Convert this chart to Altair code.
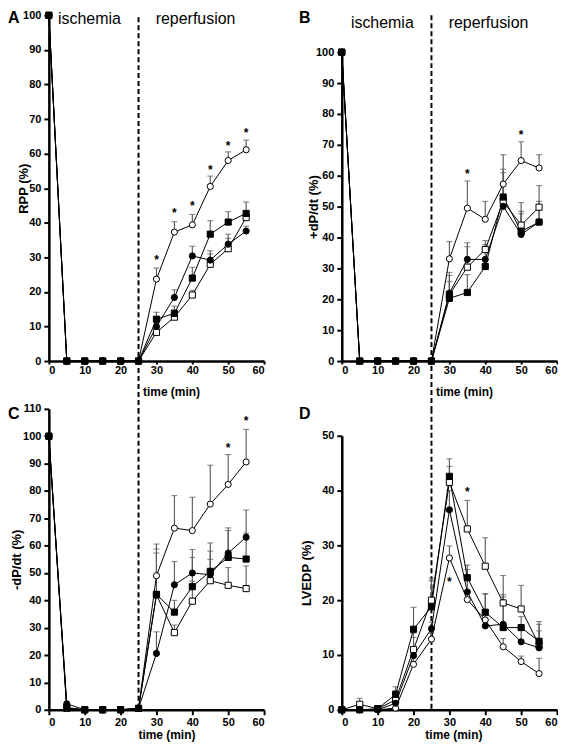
import altair as alt
import pandas as pd

TIMES = [0, 5, 10, 15, 20, 25, 30, 35, 40, 45, 50, 55]
# drawing order: open markers first, filled markers on top
SERIES = ["os", "oc", "fc", "fs"]
SHAPES = ["square", "circle", "circle", "square"]
FILLS = ["white", "white", "black", "black"]
N = None

# Panel A: RPP (%)
A_oc = [100, 0, 0, 0, 0, 0, 23.7, 37.3, 39.4, 50.5, 58.0, 61.1]
A_fc = [100, 0, 0, 0, 0, 0, 10.0, 18.4, 30.4, 29.2, 33.8, 37.6]
A_fs = [100, 0, 0, 0, 0, 0, 12.1, 13.8, 24.0, 36.7, 40.2, 42.7]
A_os = [100, 0, 0, 0, 0, 0, 8.3, 12.7, 19.1, 28.0, 32.5, 41.5]
A_oc_err = [N, N, N, N, N, N, 26.9, 40.3, 42.4, 53.5, 60.5, 63.9]
A_fc_err = [N, N, N, N, N, N, 11.5, 20.6, 33.2, 31.9, 36.7, 39.0]
A_fs_err = [N, N, N, N, N, N, 14.1, 15.9, 27.1, 40.6, 43.2, 46.0]
A_os_err = [N, N, N, N, N, N, 9.5, 14.8, 20.5, 31.0, 35.5, 42.8]
A_star_x = [30, 35, 40, 45, 50, 55]
A_star_y = [30.0, 43.7, 45.6, 56.0, 63.2, 66.9]

# Panel B: +dP/dt (%)
B_oc = [100, 0, 0, 0, 0, 0, 33.1, 49.5, 45.9, 57.3, 64.9, 62.5]
B_fc = [100, 0, 0, 0, 0, 0, 22.0, 32.9, 32.9, 50.1, 41.0, 45.0]
B_fs = [100, 0, 0, 0, 0, 0, 20.3, 22.2, 30.6, 53.1, 42.0, 45.0]
B_os = [100, 0, 0, 0, 0, 0, 21.5, 30.4, 36.1, 51.7, 44.0, 49.8]
B_oc_err = [N, N, N, N, N, N, 38.7, 58.3, 51.7, 66.8, 71.0, 66.8]
B_fc_err = [N, N, N, N, N, N, 28.7, 38.3, 37.7, 57.5, 47.7, 50.5]
B_fs_err = [N, N, N, N, N, N, 25.8, 28.0, 33.0, 62.1, 48.5, 51.7]
B_os_err = [N, N, N, N, N, N, 27.7, 37.0, 39.0, 61.0, 51.3, 56.8]
B_star_x = [35, 50]
B_star_y = [61.6, 74.2]

# Panel C: -dP/dt (%)
C_oc = [100, 0.5, 0, 0, 0, 0.5, 49.0, 66.4, 65.5, 75.2, 82.4, 90.6]
C_fc = [100, 2.2, 0, 0, 0, 0.5, 20.6, 45.7, 50.0, 49.4, 57.3, 63.1]
C_fs = [100, 0.8, 0, 0, 0, 0.5, 42.2, 35.7, 45.0, 50.6, 55.7, 55.1]
C_os = [100, 0.5, 0, 0, 0, 0.5, 42.0, 28.2, 39.7, 47.2, 45.5, 44.3]
C_oc_err = [N, N, N, N, N, N, 60.6, 78.3, 77.7, 89.4, 93.3, 102.5]
C_fc_err = [N, N, N, N, N, N, 28.5, 54.2, 58.6, 58.0, 66.5, 73.0]
C_fs_err = [N, N, N, N, N, N, 57.3, 40.0, 55.7, 61.0, 65.5, 64.6]
C_os_err = [N, N, N, N, N, N, 58.8, 31.0, 47.0, 55.0, 52.0, 52.6]
C_star_x = [50, 55]
C_star_y = [96.9, 106.6]

# Panel D: LVEDP (%)
D_oc = [0, 0, 0, 0.3, 8.3, 12.9, 27.7, 20.1, 16.4, 11.5, 8.8, 6.6]
D_fc = [0, 0, 0, 1.2, 9.9, 14.8, 36.5, 21.5, 15.3, 15.6, 12.4, 11.3]
D_fs = [0, 0, 0.2, 2.8, 14.7, 18.8, 42.6, 24.1, 17.8, 15.0, 15.0, 12.5]
D_os = [0, 1.0, 0.2, 1.8, 11.0, 20.0, 41.5, 33.0, 26.2, 19.5, 18.4, 11.8]
D_oc_err = [N, N, N, N, 9.5, 14.0, 29.9, 21.5, 17.5, 13.0, 9.8, 9.4]
D_fc_err = [N, N, N, 1.8, 13.2, 16.0, 40.0, 25.6, 21.1, 21.0, 14.5, 15.6]
D_fs_err = [N, N, N, 4.2, 18.7, 24.0, 45.8, 26.4, 21.2, 20.6, 17.0, 16.1]
D_os_err = [N, 2.1, N, 3.5, 14.0, 23.5, 44.4, 38.2, 31.4, 24.5, 22.7, 14.4]
D_star_x = [30, 35]
D_star_y = [23.9, 40.2]

W = 216
H = 347
H2 = 302
FONT = "Liberation Sans"


def build(letter, ytitle, ydom, yticks, yrange, height, vals, errs, sx, sy,
          ytitle_x, letter_x, letter_y, top_row, rule_top, rule_bottom,
          label_y=None, xtitle_x=None):
    pts, ers, caps = [], [], []
    for key, v, e in zip(SERIES, vals, errs):
        for t, yv, ev in zip(TIMES, v, e):
            pts.append({"x": t, "y": yv, "s": key})
            if ev is not None:
                ers.append({"x": t, "y": yv, "ytop": ev, "s": key})
                caps.append({"x": t, "y": ev, "s": key})
    df_pts = pd.DataFrame(pts)
    df_err = pd.DataFrame(ers)
    df_cap = pd.DataFrame(caps)
    df_star = pd.DataFrame({"x": sx, "y": sy})

    if top_row:
        xaxis = alt.Axis(values=list(range(0, 61, 10)), title="time (min)",
                         tickSize=3, labelPadding=0,
                         titleX=W * 25 / 60 + 4, titleAlign="left",
                         titleY=31, titleBaseline="middle")
    else:
        xaxis = alt.Axis(values=list(range(0, 61, 10)), title="time (min)",
                         tickSize=5, labelPadding=2,
                         titleX=xtitle_x, titleY=25, titleBaseline="middle")
    xenc = alt.X("x:Q", scale=alt.Scale(domain=[0, 60], nice=False), axis=xaxis)
    yenc = alt.Y("y:Q",
                 scale=alt.Scale(domain=ydom, range=yrange, nice=False),
                 axis=alt.Axis(values=yticks, title=ytitle, tickSize=5,
                               labelPadding=3, titleX=ytitle_x,
                               titleFontSize=13, titleBaseline="middle"))

    rule = alt.Chart(pd.DataFrame({"x": [25]})).mark_rule(
        color="black", strokeWidth=2, strokeDash=[5, 3]
    ).encode(x=xenc, y=alt.value(rule_top), y2=alt.value(rule_bottom))

    err = alt.Chart(df_err).mark_rule(color="#555555", strokeWidth=1.1).encode(
        x=xenc, y=yenc, y2=alt.Y2("ytop:Q"))
    cap = alt.Chart(df_cap).mark_tick(
        orient="horizontal", size=6, thickness=1.1, color="#555555"
    ).encode(x=xenc, y=yenc)
    line = alt.Chart(df_pts).mark_line(color="black", strokeWidth=1).encode(
        x=xenc, y=yenc, detail="s:N")
    point = alt.Chart(df_pts).mark_point(
        filled=True, size=38, stroke="black", strokeWidth=1, opacity=1
    ).encode(
        x=xenc, y=yenc,
        shape=alt.Shape("s:N", scale=alt.Scale(domain=SERIES, range=SHAPES), legend=None),
        fill=alt.Fill("s:N", scale=alt.Scale(domain=SERIES, range=FILLS), legend=None),
    )
    star = alt.Chart(df_star).mark_text(
        text="*", font=FONT, fontSize=12, fontWeight="bold", color="black",
        baseline="middle", dy=3
    ).encode(x=xenc, y=yenc)
    let = alt.Chart(pd.DataFrame({"t": [letter]})).mark_text(
        font=FONT, fontSize=16, fontWeight="bold", color="black",
        align="left", baseline="middle"
    ).encode(text="t:N", x=alt.value(letter_x), y=alt.value(letter_y))

    layers = [rule, err, cap, line, point, star, let]
    if top_row:
        lab = alt.Chart(pd.DataFrame({"x": [11.3, 40.9],
                                      "t": ["ischemia", "reperfusion"]})).mark_text(
            font=FONT, fontSize=16, color="black", align="center", baseline="middle"
        ).encode(x=xenc, y=alt.value(label_y), text="t:N")
        layers.append(lab)
    return alt.layer(*layers).properties(width=W, height=height)


def order(oc, fc, fs, os_):
    d = {"oc": oc, "fc": fc, "fs": fs, "os": os_}
    return [d[k] for k in SERIES]


pA = build("A", "RPP (%)", [0, 100], list(range(0, 101, 10)), [H, 0], H,
           order(A_oc, A_fc, A_fs, A_os), order(A_oc_err, A_fc_err, A_fs_err, A_os_err),
           A_star_x, A_star_y, -25, -41, 3, True, 2, H + 48, label_y=4)
pB = build("B", "+dP/dt (%)", [0, 100], list(range(0, 101, 10)), [H, 37], H,
           order(B_oc, B_fc, B_fs, B_os), order(B_oc_err, B_fc_err, B_fs_err, B_os_err),
           B_star_x, B_star_y, -28, -43, 3, True, 0, H + 48, label_y=8)
pC = build("C", "-dP/dt (%)", [0, 110], list(range(0, 111, 10)), [H2, 0], H2,
           order(C_oc, C_fc, C_fs, C_os), order(C_oc_err, C_fc_err, C_fs_err, C_os_err),
           C_star_x, C_star_y, -32, -41, 5, False, 0, H2, xtitle_x=118)
pD = build("D", "LVEDP (%)", [0, 50], list(range(0, 51, 10)), [H2, 27], H2,
           order(D_oc, D_fc, D_fs, D_os), order(D_oc_err, D_fc_err, D_fs_err, D_os_err),
           D_star_x, D_star_y, -35, -43, 5, False, 0, H2, xtitle_x=112)

chart = alt.concat(pA, pB, pC, pD, columns=2, spacing={"row": 48, "column": 78},
                   bounds="flush").properties(padding=0).configure_view(
    stroke=None
).configure_axis(
    grid=False, domainColor="black", domainWidth=2.5, tickColor="black",
    tickWidth=2, labelFont=FONT, labelFontWeight="bold", labelFontSize=11,
    labelColor="black", titleFont=FONT, titleFontWeight="bold", titleFontSize=12,
    titleColor="black"
)

chart.save("out.html", embed_options={"renderer": "svg", "actions": False})
